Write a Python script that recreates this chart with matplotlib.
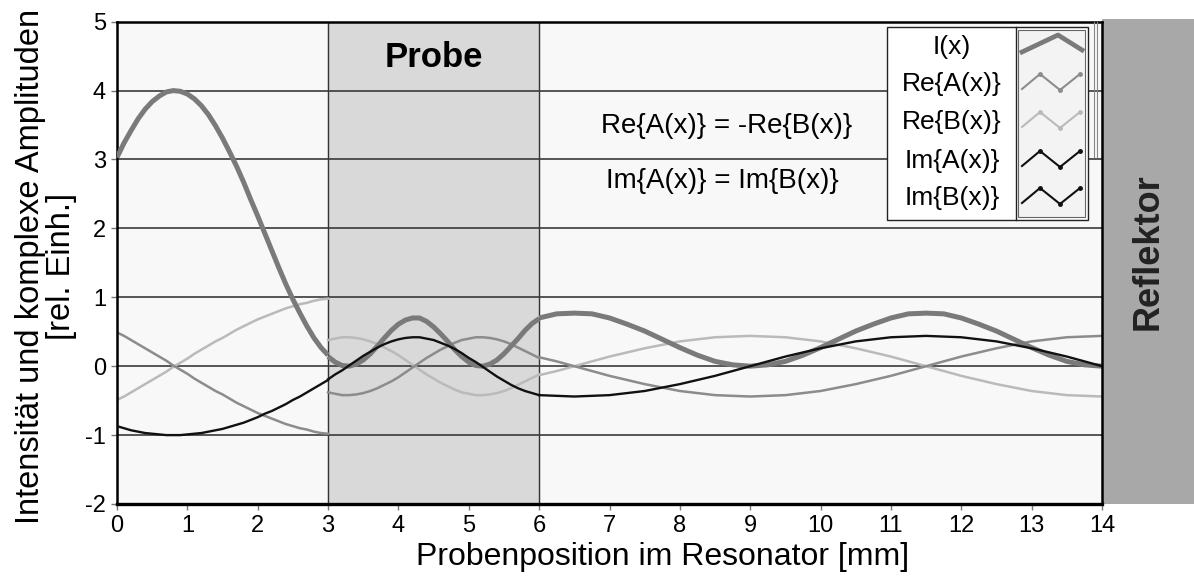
import matplotlib
matplotlib.use("Agg")
import matplotlib.pyplot as plt
from matplotlib.patches import Rectangle
from matplotlib.transforms import blended_transform_factory

plt.rcParams['font.family'] = ['Liberation Sans', 'DejaVu Sans']
plt.rcParams['axes.unicode_minus'] = False

# Luft vor der Probe (0-3 mm)
x_air = [0.0, 0.1, 0.2, 0.3, 0.4, 0.5, 0.6, 0.7, 0.8, 0.9, 1.0, 1.1, 1.2, 1.3, 1.4, 1.5,
         1.6, 1.7, 1.8, 1.9, 2.0, 2.1, 2.2, 2.3, 2.4, 2.5, 2.6, 2.7, 2.8, 2.9, 3.0]
re_a_air = [0.49, 0.44, 0.38, 0.32, 0.26, 0.20, 0.14, 0.08, 0.01, -0.05, -0.11, -0.18, -0.24,
            -0.30, -0.36, -0.41, -0.47, -0.53, -0.58, -0.63, -0.68, -0.72, -0.76, -0.80, -0.84,
            -0.87, -0.90, -0.92, -0.95, -0.97, -0.98]
re_b_air = [-0.49, -0.44, -0.38, -0.32, -0.26, -0.20, -0.14, -0.08, -0.01, 0.05, 0.11, 0.18, 0.24,
            0.30, 0.36, 0.41, 0.47, 0.53, 0.58, 0.63, 0.68, 0.72, 0.76, 0.80, 0.84,
            0.87, 0.90, 0.92, 0.95, 0.97, 0.98]
im_air = [-0.87, -0.90, -0.93, -0.95, -0.97, -0.98, -0.99, -1.00, -1.00, -1.00, -0.99, -0.98, -0.97,
          -0.95, -0.93, -0.91, -0.88, -0.85, -0.82, -0.78, -0.74, -0.69, -0.65, -0.60, -0.55,
          -0.49, -0.44, -0.38, -0.32, -0.26, -0.20]
i_air = [3.03, 3.24, 3.42, 3.59, 3.73, 3.84, 3.92, 3.98, 4.00, 3.99, 3.95, 3.88, 3.78,
         3.65, 3.49, 3.31, 3.11, 2.90, 2.67, 2.42, 2.18, 1.93, 1.68, 1.43, 1.19,
         0.97, 0.77, 0.58, 0.41, 0.27, 0.16]

# Probe (3-6 mm)
x_probe = [3.0, 3.1, 3.2, 3.3, 3.4, 3.5, 3.6, 3.7, 3.8, 3.9, 4.0, 4.1, 4.2, 4.3, 4.4, 4.5,
           4.6, 4.7, 4.8, 4.9, 5.0, 5.1, 5.2, 5.3, 5.4, 5.5, 5.6, 5.7, 5.8, 5.9, 6.0]
re_a_probe = [-0.38, -0.40, -0.42, -0.42, -0.41, -0.39, -0.36, -0.32, -0.27, -0.22, -0.16, -0.09,
              -0.02, 0.05, 0.12, 0.18, 0.24, 0.29, 0.34, 0.38, 0.40, 0.42, 0.42, 0.41, 0.39,
              0.36, 0.32, 0.27, 0.22, 0.17, 0.12]
re_b_probe = [0.38, 0.40, 0.42, 0.42, 0.41, 0.39, 0.36, 0.32, 0.27, 0.22, 0.16, 0.09,
              0.02, -0.05, -0.12, -0.18, -0.24, -0.29, -0.34, -0.38, -0.40, -0.42, -0.42, -0.41, -0.39,
              -0.36, -0.32, -0.27, -0.22, -0.17, -0.12]
im_probe = [-0.19, -0.12, -0.06, 0.01, 0.08, 0.15, 0.21, 0.27, 0.32, 0.36, 0.39, 0.41,
            0.42, 0.42, 0.40, 0.38, 0.34, 0.30, 0.25, 0.19, 0.12, 0.06, -0.01, -0.08, -0.15,
            -0.21, -0.27, -0.32, -0.36, -0.39, -0.42]
i_probe = [0.14, 0.06, 0.01, 0.00, 0.03, 0.09, 0.18, 0.29, 0.41, 0.52, 0.61, 0.67,
           0.70, 0.70, 0.65, 0.57, 0.47, 0.36, 0.24, 0.14, 0.06, 0.01, 0.00, 0.03, 0.09,
           0.18, 0.29, 0.40, 0.52, 0.62, 0.69]

# Luft zwischen Probe und Reflektor (6-14 mm)
x_gap = [6.0, 6.25, 6.5, 6.75, 7.0, 7.25, 7.5, 7.75, 8.0, 8.25, 8.5, 8.75, 9.0, 9.25, 9.5, 9.75,
         10.0, 10.25, 10.5, 10.75, 11.0, 11.25, 11.5, 11.75, 12.0, 12.25, 12.5, 12.75, 13.0,
         13.25, 13.5, 13.75, 14.0]
re_a_gap = [0.13, 0.07, 0.00, -0.07, -0.14, -0.20, -0.26, -0.31, -0.36, -0.39, -0.42, -0.43, -0.44,
            -0.43, -0.42, -0.39, -0.36, -0.31, -0.26, -0.20, -0.14, -0.07, 0.00, 0.07, 0.14,
            0.20, 0.26, 0.31, 0.36, 0.39, 0.42, 0.43, 0.44]
re_b_gap = [-0.13, -0.07, 0.00, 0.07, 0.14, 0.20, 0.26, 0.31, 0.36, 0.39, 0.42, 0.43, 0.44,
            0.43, 0.42, 0.39, 0.36, 0.31, 0.26, 0.20, 0.14, 0.07, 0.00, -0.07, -0.14,
            -0.20, -0.26, -0.31, -0.36, -0.39, -0.42, -0.43, -0.44]
im_gap = [-0.42, -0.43, -0.44, -0.43, -0.42, -0.39, -0.36, -0.31, -0.26, -0.20, -0.14, -0.07, 0.00,
          0.07, 0.14, 0.20, 0.26, 0.31, 0.36, 0.39, 0.42, 0.43, 0.44, 0.43, 0.42,
          0.39, 0.36, 0.31, 0.26, 0.20, 0.14, 0.07, 0.00]
i_gap = [0.70, 0.76, 0.77, 0.76, 0.70, 0.61, 0.51, 0.39, 0.27, 0.16, 0.07, 0.02, 0.00,
         0.02, 0.07, 0.16, 0.27, 0.39, 0.51, 0.61, 0.70, 0.76, 0.77, 0.76, 0.70,
         0.61, 0.51, 0.39, 0.27, 0.16, 0.07, 0.02, 0.00]

probe_start, probe_end = 3, 6
reflector_pos = 14

legend_labels = ['I(x)', 'Re{A(x)}', 'Re{B(x)}', 'Im{A(x)}', 'Im{B(x)}']

c_int = '#7a7a7a'
c_re_a = '#8c8c8c'
c_re_b = '#bababa'
c_im = '#111111'

fig = plt.figure(figsize=(11.94, 5.77), dpi=100)
fig.patch.set_facecolor('white')
ax = fig.add_axes([117 / 1194, 1 - 504 / 577, 985 / 1194, (504 - 21.7) / 577])
ax.set_facecolor('#f8f8f8')
ax.set_xlim(0, reflector_pos)
ax.set_ylim(-2, 5)

# Probenbereich und Reflektor
ax.axvspan(probe_start, probe_end, color='#d9d9d9', zorder=0)
for xv in (probe_start, probe_end):
    ax.axvline(xv, color='#333333', lw=1.0, zorder=1)
trans = blended_transform_factory(ax.transData, ax.transAxes)
ax.add_patch(Rectangle((reflector_pos, 0), 2, 1.006, transform=trans,
                       facecolor='#a8a8a8', edgecolor='none', clip_on=False, zorder=0))

for yv in range(-1, 5):
    ax.axhline(yv, color='#3a3a3a', lw=1.2, zorder=1)

# Kurven je Bereich
for xs, ra, rb, im, it in [(x_air, re_a_air, re_b_air, im_air, i_air),
                           (x_probe, re_a_probe, re_b_probe, im_probe, i_probe),
                           (x_gap, re_a_gap, re_b_gap, im_gap, i_gap)]:
    ax.plot(xs, rb, color=c_re_b, lw=1.8, zorder=2)
    ax.plot(xs, ra, color=c_re_a, lw=1.8, zorder=2)
    ax.plot(xs, it, color=c_int, lw=3.6, zorder=3, solid_capstyle='butt')
    ax.plot(xs, im, color=c_im, lw=1.7, zorder=4)  # Im{A} = Im{B}

for side in ['left', 'top', 'right']:
    ax.spines[side].set_linewidth(1.8)
ax.spines['bottom'].set_linewidth(2.4)
ax.spines['right'].set_zorder(5)

ax.set_xticks(range(0, 15))
ax.set_yticks(range(-2, 6))
ax.tick_params(axis='both', direction='out', length=4, width=1, color='#777777',
               labelsize=17, pad=4)

ax.text(4.5, 4.48, 'Probe', ha='center', va='center', fontsize=25, fontweight='bold')
ax.text(8.67, 3.48, 'Re{A(x)} = -Re{B(x)}', ha='center', va='center', fontsize=20)
ax.text(8.61, 2.69, 'Im{A(x)} = Im{B(x)}', ha='center', va='center', fontsize=20)

fig.text(1148 / 1194, 1 - 252 / 577, 'Reflektor', rotation=90, ha='center', va='center',
         fontsize=26, fontweight='bold', color='#222222')

fig.text(663 / 1194, 1 - 557 / 577, 'Probenposition im Resonator [mm]',
         ha='center', va='center', fontsize=23)
fig.text(46 / 1194, 1 - 266 / 577, 'Intensität und komplexe Amplituden\n[rel. Einh.]',
         rotation=90, ha='center', va='center', multialignment='center',
         fontsize=23.5, linespacing=1.0)

# Legende als eigene Box
lg = fig.add_axes([880 / 1194, 1 - 224 / 577, 222 / 1194, 204 / 577])
lg.set_xlim(880, 1102)
lg.set_ylim(224, 20)
lg.axis('off')
lg.add_patch(Rectangle((887, 27), 201, 193, facecolor='white', edgecolor='#222222', lw=1.0))
lg.add_patch(Rectangle((1018, 30), 67, 187, facecolor='#f3f3f3', edgecolor='#666666', lw=0.8))
lg.plot([1016, 1016], [27, 220], color='#222222', lw=1.0)
lg.plot([1094, 1094], [22, 157], color='#888888', lw=0.8)
lg.plot([1097, 1097], [22, 157], color='#888888', lw=0.8)

rows = [47, 84, 122, 161, 198]
for lab, yc in zip(legend_labels, rows):
    lg.text(952, yc, lab, ha='center', va='center', fontsize=19)

lg.plot([1022, 1058, 1082], [rows[0] + 5, rows[0] - 12, rows[0] + 3], color=c_int, lw=3.4)
zx = [1022, 1040, 1060, 1080]
for yc, col in [(rows[1], c_re_a), (rows[2], c_re_b), (rows[3], c_im), (rows[4], c_im)]:
    zy = [yc + 5, yc - 10, yc + 6, yc - 10]
    lg.plot(zx, zy, color=col, lw=1.5)
    lg.plot(zx[1:], zy[1:], 'o', color=col, ms=2.5)

fig.savefig('out.png', dpi=100)
